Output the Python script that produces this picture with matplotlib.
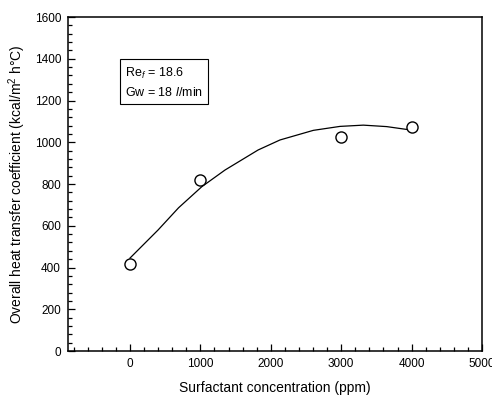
import numpy as np
import matplotlib
matplotlib.use("Agg")
import matplotlib.pyplot as plt

plt.rcParams['font.family'] = ['Liberation Sans', 'DejaVu Sans']
plt.rcParams['mathtext.fontset'] = 'custom'
plt.rcParams['mathtext.rm'] = 'Liberation Sans'
plt.rcParams['mathtext.it'] = 'Liberation Sans:italic'

# measured points
conc = [0, 1000, 3000, 4000]
htc = [417, 819, 1027, 1075]

# fitted curve
curve_x = [0, 400, 690, 1020, 1350, 1820, 2131, 2604, 2983, 3314, 3646, 3960]
curve_y = [445, 580, 686, 787, 867, 963, 1011, 1057, 1076, 1082, 1075, 1060]

fig = plt.figure(figsize=(4.92, 4.03), dpi=100)
ax = fig.add_axes([0.1382, 0.129, 0.8415, 0.8288])

ax.plot(curve_x, curve_y, color='black', lw=0.9)
ax.plot(conc, htc, 'o', mfc='white', mec='black', ms=8, mew=1.0)

ax.set_xlim(-880, 5000)
ax.set_ylim(0, 1600)
ax.set_xticks([0, 1000, 2000, 3000, 4000, 5000])
ax.set_xticks(np.arange(-800, 5000, 200), minor=True)
ax.set_yticks(np.arange(0, 1601, 200))
ax.set_yticks(np.arange(0, 1600, 40), minor=True)
ax.tick_params(which='both', direction='in', top=False, right=False,
               labelsize=8.5, width=0.9)
ax.tick_params(which='major', length=5, pad=5)
ax.tick_params(which='minor', length=3)
for s in ax.spines.values():
    s.set_linewidth(1.1)

ax.set_xlabel('Surfactant concentration (ppm)', fontsize=10, labelpad=8)
ax.set_ylabel('Overall heat transfer coefficient (kcal/m$^2$ h\u00b0C)',
              fontsize=10, labelpad=5)

ax.text(0.137, 0.855, 'Re$_f$ = 18.6\nGw = 18 $\\mathit{l}$/min',
        transform=ax.transAxes, fontsize=9, va='top', ha='left',
        linespacing=1.5,
        bbox=dict(boxstyle='square,pad=0.4', fc='white', ec='black', lw=0.8))

fig.savefig('out.png', dpi=100)
